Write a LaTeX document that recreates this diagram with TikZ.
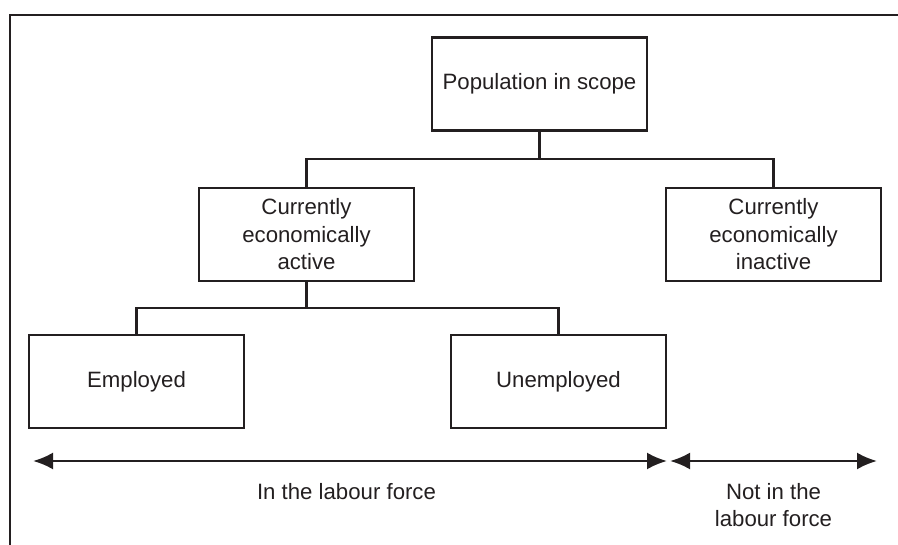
\documentclass[tikz,border=0pt]{standalone}
\usepackage{fontspec}
\setmainfont{Liberation Sans}
\usetikzlibrary{positioning,arrows.meta}
\definecolor{ink}{HTML}{231F20}

\begin{document}
\begin{tikzpicture}[node distance=2cm, on grid, font=\fontsize{11.1pt}{13.75pt}\selectfont,
  box/.style={draw=ink, line width=1.2pt, minimum width=107.5pt, minimum height=46.5pt, inner sep=0pt, align=center, text=ink},
  link/.style={draw=ink, line width=1.1pt},
  span/.style={draw=ink, line width=1.2pt, {Latex[length=10pt,width=8.5pt]}-{Latex[length=10pt,width=8.5pt]}},
  lbl/.style={align=center, inner sep=0pt, text=ink}]
\useasboundingbox (0,0) rectangle (449pt,-272.5pt);
\draw [ink, line width=1.2pt] (5pt,-272.5pt) -- (5pt,-7.5pt) -- (449pt,-7.5pt);
\node [box] (pop) at (269.75pt,-42pt) {Population in scope};
\node [box] (active) [below left = 75.25pt and 116.5pt of pop] {Currently\\economically\\active};
\node [box] (inactive) [below right = 75.25pt and 117pt of pop] {Currently\\economically\\inactive};
\node [box] (emp) [below left = 73.5pt and 85pt of active] {Employed};
\node [box] (unemp) [below right = 73.5pt and 126pt of active] {Unemployed};
\coordinate [below = 13.5pt of pop.south] (j1);
\coordinate [below = 13pt of active.south] (j2);
\path [link]
(pop.south) -- (j1)
(active.north) |- (j1) -| (inactive.north)
(active.south) -- (j2)
(emp.north) |- (j2) -| (unemp.north);
\coordinate (lf_a) at (16.5pt,-230.5pt);
\coordinate (lf_b) at (333.5pt,-230.5pt);
\coordinate (nlf_a) at (335pt,-230.5pt);
\coordinate (nlf_b) at (438.5pt,-230.5pt);
\draw [span] (lf_a) -- (lf_b);
\draw [span] (nlf_a) -- (nlf_b);
\node [lbl] (inlf) at (173.25pt,-245.65pt) {In the labour force};
\node [lbl] (notlf) at (386.75pt,-252.5pt) {Not in the\\labour force};
\end{tikzpicture}
\end{document}
